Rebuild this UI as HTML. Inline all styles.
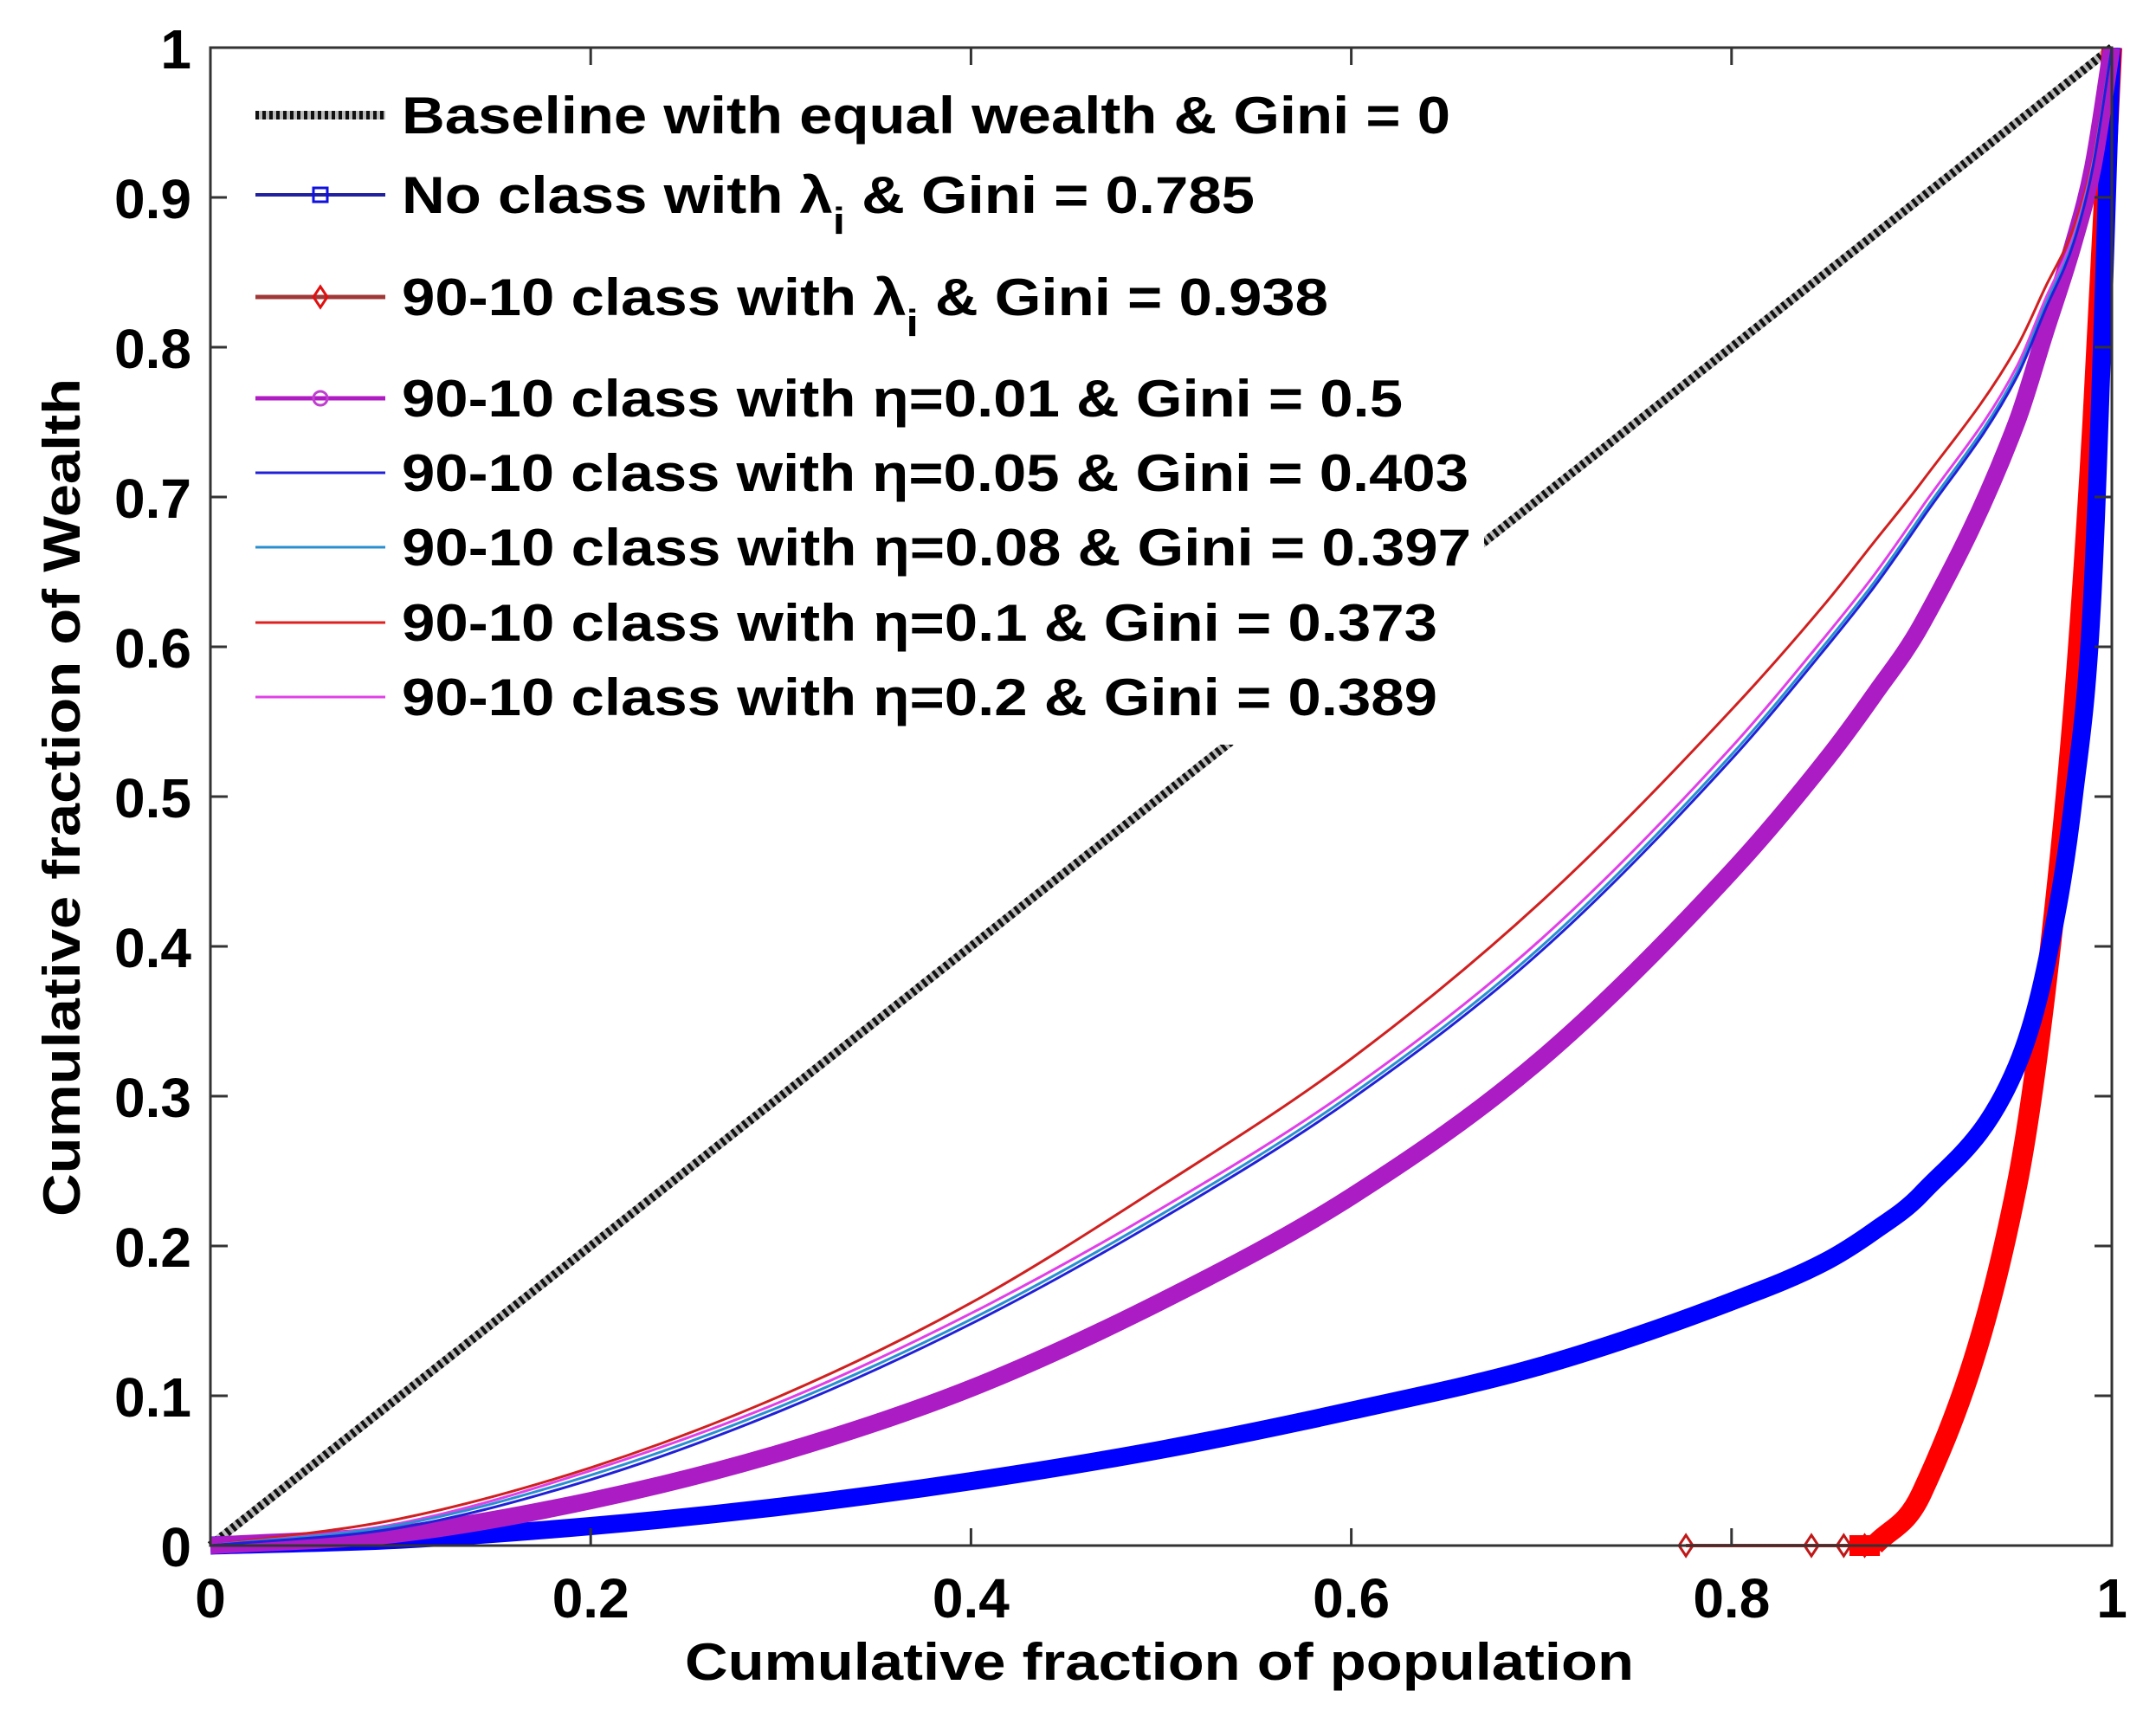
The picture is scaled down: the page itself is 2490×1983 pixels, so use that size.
<!DOCTYPE html>
<html><head><meta charset="utf-8"><style>
html,body{margin:0;padding:0;background:#fff;}
svg{display:block;font-family:"Liberation Sans",Arial,sans-serif;font-weight:bold;}
</style></head><body>
<svg id="chart" width="2490" height="1983" viewBox="0 0 2490 1983" xmlns="http://www.w3.org/2000/svg">
<rect width="2490" height="1983" fill="#fff"/>
<g id="plot"></g>
<g id="axes"></g>
<g id="legend"></g>
</svg>
<script>
const xGrid=[0,0.1,0.2,0.3,0.4,0.5,0.6,0.7,0.8,0.85,0.875,0.9,0.95,0.965,0.98,0.99,1];
const baselineY=[0,0.1,0.2,0.3,0.4,0.5,0.6,0.7,0.8,0.85,0.875,0.9,0.95,0.965,0.98,0.99,1];
const noClassY=[0,0.004,0.013,0.026,0.043,0.064,0.09,0.12,0.163,0.19,0.21,0.235,0.32,0.385,0.5,0.64,1];
const lambda9010Y=[0,0,0,0,0,0,0,0,0,0,0,0.035,0.24,0.37,0.56,0.75,1];
const eta001Y=[0,0.008,0.03,0.062,0.105,0.163,0.233,0.325,0.45,0.525,0.568,0.615,0.75,0.81,0.87,0.92,1];
const eta005Y=[0,0.012,0.044,0.09,0.148,0.218,0.298,0.397,0.525,0.6,0.64,0.685,0.78,0.825,0.87,0.92,1];
const eta008Y=[0,0.014,0.047,0.093,0.151,0.221,0.301,0.4,0.528,0.603,0.643,0.688,0.783,0.828,0.872,0.921,1];
const eta01Y=[0,0.018,0.052,0.1,0.162,0.24,0.325,0.43,0.558,0.63,0.67,0.71,0.8,0.84,0.88,0.925,1];
const eta02Y=[0,0.015,0.05,0.096,0.155,0.225,0.305,0.405,0.533,0.608,0.648,0.693,0.787,0.832,0.875,0.923,1];
const lambdaMarkerX=[0.776,0.842,0.859,0.87];
const lambdaMarkerY=[0,0,0,0];
const xTicks=[0,0.2,0.4,0.6,0.8,1];
const xTickLabels=["0","0.2","0.4","0.6","0.8","1"];
const yTicks=[0,0.1,0.2,0.3,0.4,0.5,0.6,0.7,0.8,0.9,1];
const yTickLabels=["0","0.1","0.2","0.3","0.4","0.5","0.6","0.7","0.8","0.9","1"];

const X0=243,X1=2439,Y0=1785,Y1=55;
const sx=v=>X0+v*(X1-X0);
const sy=v=>Y0-v*(Y0-Y1);
const NS="http://www.w3.org/2000/svg";
function mk(tag,attrs,parent){const e=document.createElementNS(NS,tag);for(const k in attrs)e.setAttribute(k,attrs[k]);parent.appendChild(e);return e;}

function monotonePath(xs,ys){
  const n=xs.length,px=xs.map(sx),py=ys.map(sy);
  const d=[],m=new Array(n);
  for(let i=0;i<n-1;i++)d.push((ys[i+1]-ys[i])/(xs[i+1]-xs[i]));
  m[0]=d[0];m[n-1]=d[n-2];
  for(let i=1;i<n-1;i++){m[i]=(d[i-1]*d[i]<=0)?0:(d[i-1]+d[i])/2;}
  for(let i=0;i<n-1;i++){if(d[i]===0){m[i]=0;m[i+1]=0;continue;}
    const a=m[i]/d[i],b=m[i+1]/d[i],s=a*a+b*b;if(s>9){const t=3/Math.sqrt(s);m[i]=t*a*d[i];m[i+1]=t*b*d[i];}}
  let p="M"+px[0]+","+py[0];
  for(let i=0;i<n-1;i++){const h=xs[i+1]-xs[i];
    const c1x=sx(xs[i]+h/3),c1y=sy(ys[i]+m[i]*h/3),c2x=sx(xs[i+1]-h/3),c2y=sy(ys[i+1]-m[i+1]*h/3);
    p+=" C"+c1x+","+c1y+" "+c2x+","+c2y+" "+px[i+1]+","+py[i+1];}
  return p;
}
const plot=document.getElementById('plot');
const axes=document.getElementById('axes');
const legend=document.getElementById('legend');

let e=mk('path',{d:"M"+sx(xGrid[0])+","+sy(baselineY[0])+" L"+sx(xGrid[xGrid.length-1])+","+sy(baselineY[baselineY.length-1]),stroke:"#bbb","stroke-width":10,fill:"none"},plot);


e=mk('path',{d:"M"+sx(xGrid[0])+","+sy(baselineY[0])+" L"+sx(xGrid[xGrid.length-1])+","+sy(baselineY[baselineY.length-1]),stroke:"#111","stroke-width":10,"stroke-dasharray":"4 4",fill:"none"},plot);



e=mk('path',{d:"M"+sx(lambdaMarkerX[0])+","+sy(lambdaMarkerY[0])+" L"+sx(0.875)+","+sy(0),stroke:"#d42020","stroke-width":4,fill:"none"},plot);


lambdaMarkerX.forEach((v,i)=>{const cx=sx(v),cy=sy(lambdaMarkerY[i]);
  const m=mk('path',{d:`M${cx},${cy-12} L${cx+8},${cy} L${cx},${cy+12} L${cx-8},${cy} Z`,stroke:"#c01818","stroke-width":3,fill:"none"},plot);
  
  
});
const startIdx=10;
e=mk('path',{d:monotonePath(xGrid.slice(startIdx),lambda9010Y.slice(startIdx)),stroke:"#ff0000","stroke-width":24,fill:"none","stroke-linejoin":"round"},plot);


e=mk('path',{d:"M"+sx(0.862)+","+sy(0)+" L"+sx(0.878)+","+sy(0),stroke:"#ff0000","stroke-width":24,fill:"none"},plot);



e=mk('path',{d:monotonePath(xGrid,noClassY),stroke:"#0000ff","stroke-width":21,fill:"none"},plot);


e=mk('path',{d:monotonePath(xGrid,eta001Y),stroke:"#ac1cc4","stroke-width":20,fill:"none"},plot);


e=mk('path',{d:monotonePath(xGrid,eta01Y),stroke:"#d02020","stroke-width":3,fill:"none"},plot);


e=mk('path',{d:monotonePath(xGrid,eta02Y),stroke:"#e040e8","stroke-width":3,fill:"none"},plot);


e=mk('path',{d:monotonePath(xGrid,eta008Y),stroke:"#2a8fd0","stroke-width":3,fill:"none"},plot);


e=mk('path',{d:monotonePath(xGrid,eta005Y),stroke:"#2020d8","stroke-width":3,fill:"none"},plot);



e=mk('rect',{x:X0,y:Y1,width:X1-X0,height:Y0-Y1,fill:"none",stroke:"#333","stroke-width":3},axes);


xTicks.forEach((v,i)=>{const x=sx(v);
  mk('line',{x1:x,y1:Y0,x2:x,y2:Y0-20,stroke:"#333","stroke-width":3},axes);
  mk('line',{x1:x,y1:Y1,x2:x,y2:Y1+20,stroke:"#333","stroke-width":3},axes);
  const t=mk('text',{x:x,y:1868,"text-anchor":"middle","font-size":64,fill:"#000"},axes);
  t.textContent=xTickLabels[i];
  
  
});
yTicks.forEach((v,i)=>{const y=sy(v);
  mk('line',{x1:X0,y1:y,x2:X0+20,y2:y,stroke:"#333","stroke-width":3},axes);
  mk('line',{x1:X1,y1:y,x2:X1-20,y2:y,stroke:"#333","stroke-width":3},axes);
  const t=mk('text',{x:221,y:y+24,"text-anchor":"end","font-size":64,fill:"#000"},axes);
  t.textContent=yTickLabels[i];
  
  
});
e=mk('text',{x:1339,y:1940,"text-anchor":"middle","font-size":60,textLength:1096,lengthAdjust:"spacingAndGlyphs",fill:"#000"},axes);
e.textContent="Cumulative fraction of population";


e=mk('text',{x:0,y:0,"text-anchor":"middle","font-size":60,textLength:968,lengthAdjust:"spacingAndGlyphs",fill:"#000",transform:"translate(92,921) rotate(-90)"},axes);
e.textContent="Cumulative fraction of Wealth";



e=mk('rect',{x:262,y:75,width:1452,height:785,fill:"#fff"},legend);


const rows=[
 {y:133,c:"#111",w:10,dash:"4 4",mark:null,txt:["Baseline with equal wealth & Gini = 0"],len:1211},
 {y:225,c:"#2020a0",w:4,mark:"sq",txt:["No class with λ","i"," & Gini = 0.785"],len:985},
 {y:343,c:"#a03838",w:5,mark:"dia",txt:["90-10 class with λ","i"," & Gini = 0.938"],len:1070},
 {y:460,c:"#b01cc4",w:5,mark:"circ",txt:["90-10 class with η=0.01 & Gini = 0.5"],len:1156},
 {y:546,c:"#2020d8",w:3,txt:["90-10 class with η=0.05 & Gini = 0.403"],len:1232},
 {y:632,c:"#2a8fd0",w:3,txt:["90-10 class with η=0.08 & Gini = 0.397"],len:1235},
 {y:719,c:"#e02020",w:3,txt:["90-10 class with η=0.1 & Gini = 0.373"],len:1196},
 {y:805,c:"#e040e8",w:3,txt:["90-10 class with η=0.2 & Gini = 0.389"],len:1196}];
rows.forEach(r=>{
  const g=mk('g',{},legend);
  
  
  if(r.dash) mk('line',{x1:295,y1:r.y,x2:445,y2:r.y,stroke:"#bbb","stroke-width":r.w},g);
  const l=mk('line',{x1:295,y1:r.y,x2:445,y2:r.y,stroke:r.c,"stroke-width":r.w},g);
  if(r.dash) l.setAttribute('stroke-dasharray',r.dash);
  if(r.mark==="sq") mk('rect',{x:362,y:r.y-8,width:16,height:16,fill:"none",stroke:"#1010e0","stroke-width":3},g);
  if(r.mark==="dia") mk('path',{d:`M370,${r.y-12} L378,${r.y} L370,${r.y+12} L362,${r.y} Z`,fill:"none",stroke:"#e01010","stroke-width":3},g);
  if(r.mark==="circ") mk('circle',{cx:370,cy:r.y,r:8,fill:"none",stroke:"#c040d0","stroke-width":3},g);
  const t=mk('text',{x:464,y:r.y+21,"font-size":60,textLength:r.len,lengthAdjust:"spacingAndGlyphs",fill:"#000"},g);
  if(r.txt.length===1){t.textContent=r.txt[0];}
  else{
    const a=mk('tspan',{},t);a.textContent=r.txt[0];
    const b=mk('tspan',{dy:24,"font-size":44},t);b.textContent=r.txt[1];
    const c=mk('tspan',{dy:-24},t);c.textContent=r.txt[2];
  }
  
  
});
</script>
</body></html>
